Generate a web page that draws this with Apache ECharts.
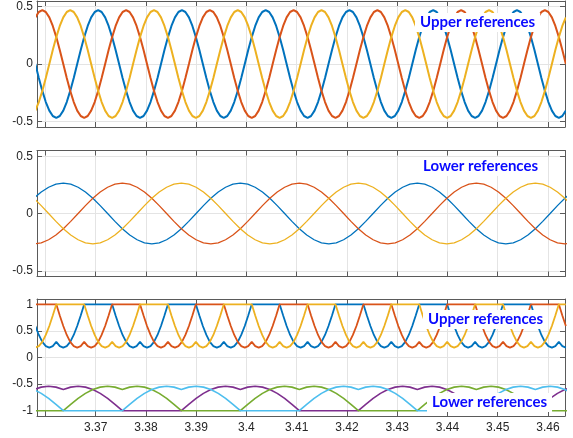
<!DOCTYPE html>
<html><head><meta charset="utf-8">
<script src="https://cdn.jsdelivr.net/npm/echarts@6/dist/echarts.min.js"></script>
<style>html,body{margin:0;padding:0;background:#fff}#c{width:573px;height:438px}</style>
</head><body><div id="c"></div>
<script>
// ---- time samples (s) for the 60 Hz signals (top panel and upper references) ----
const tFast = [
3.358,3.35869,3.35939,3.36008,3.36078,3.36147,3.36217,3.36286,3.36356,3.36425,3.36494,3.36564,3.36633,3.36703,3.36772,3.36842,3.36911,3.36981,3.3705,3.37119,3.37189,3.37258,3.37328,3.37397,
3.37467,3.37536,3.37606,3.37675,3.37744,3.37814,3.37883,3.37953,3.38022,3.38092,3.38161,3.38231,3.383,3.38369,3.38439,3.38508,3.38578,3.38647,3.38717,3.38786,3.38856,3.38925,3.38994,3.39064,
3.39133,3.39203,3.39272,3.39342,3.39411,3.39481,3.3955,3.39619,3.39689,3.39758,3.39828,3.39897,3.39967,3.40036,3.40106,3.40175,3.40244,3.40314,3.40383,3.40453,3.40522,3.40592,3.40661,3.40731,
3.408,3.40869,3.40939,3.41008,3.41078,3.41147,3.41217,3.41286,3.41356,3.41425,3.41494,3.41564,3.41633,3.41703,3.41772,3.41842,3.41911,3.41981,3.4205,3.42119,3.42189,3.42258,3.42328,3.42397,
3.42467,3.42536,3.42606,3.42675,3.42744,3.42814,3.42883,3.42953,3.43022,3.43092,3.43161,3.43231,3.433,3.43369,3.43439,3.43508,3.43578,3.43647,3.43717,3.43786,3.43856,3.43925,3.43994,3.44064,
3.44133,3.44203,3.44272,3.44342,3.44411,3.44481,3.4455,3.44619,3.44689,3.44758,3.44828,3.44897,3.44967,3.45036,3.45106,3.45175,3.45244,3.45314,3.45383,3.45453,3.45522,3.45592,3.45661,3.45731,
3.458,3.45869,3.45939,3.46008,3.46078,3.46147,3.46217,3.46286,3.46356];

// ---- top panel: upper references (sinusoids) ----
const topBlue = [
0,-0.122,-0.235,-0.332,-0.407,-0.454,-0.47,-0.454,-0.407,-0.332,-0.235,-0.122,0,0.122,0.235,0.332,0.407,0.454,0.47,0.454,0.407,0.332,0.235,0.122,
0,-0.122,-0.235,-0.332,-0.407,-0.454,-0.47,-0.454,-0.407,-0.332,-0.235,-0.122,0,0.122,0.235,0.332,0.407,0.454,0.47,0.454,0.407,0.332,0.235,0.122,
0,-0.122,-0.235,-0.332,-0.407,-0.454,-0.47,-0.454,-0.407,-0.332,-0.235,-0.122,0,0.122,0.235,0.332,0.407,0.454,0.47,0.454,0.407,0.332,0.235,0.122,
0,-0.122,-0.235,-0.332,-0.407,-0.454,-0.47,-0.454,-0.407,-0.332,-0.235,-0.122,0,0.122,0.235,0.332,0.407,0.454,0.47,0.454,0.407,0.332,0.235,0.122,
0,-0.122,-0.235,-0.332,-0.407,-0.454,-0.47,-0.454,-0.407,-0.332,-0.235,-0.122,0,0.122,0.235,0.332,0.407,0.454,0.47,0.454,0.407,0.332,0.235,0.122,
0,-0.122,-0.235,-0.332,-0.407,-0.454,-0.47,-0.454,-0.407,-0.332,-0.235,-0.122,0,0.122,0.235,0.332,0.407,0.454,0.47,0.454,0.407,0.332,0.235,0.122,
0,-0.122,-0.235,-0.332,-0.407,-0.454,-0.47,-0.454,-0.407];
const topOrange = [
0.407,0.454,0.47,0.454,0.407,0.332,0.235,0.122,0,-0.122,-0.235,-0.332,-0.407,-0.454,-0.47,-0.454,-0.407,-0.332,-0.235,-0.122,0,0.122,0.235,0.332,
0.407,0.454,0.47,0.454,0.407,0.332,0.235,0.122,0,-0.122,-0.235,-0.332,-0.407,-0.454,-0.47,-0.454,-0.407,-0.332,-0.235,-0.122,0,0.122,0.235,0.332,
0.407,0.454,0.47,0.454,0.407,0.332,0.235,0.122,0,-0.122,-0.235,-0.332,-0.407,-0.454,-0.47,-0.454,-0.407,-0.332,-0.235,-0.122,0,0.122,0.235,0.332,
0.407,0.454,0.47,0.454,0.407,0.332,0.235,0.122,0,-0.122,-0.235,-0.332,-0.407,-0.454,-0.47,-0.454,-0.407,-0.332,-0.235,-0.122,0,0.122,0.235,0.332,
0.407,0.454,0.47,0.454,0.407,0.332,0.235,0.122,0,-0.122,-0.235,-0.332,-0.407,-0.454,-0.47,-0.454,-0.407,-0.332,-0.235,-0.122,0,0.122,0.235,0.332,
0.407,0.454,0.47,0.454,0.407,0.332,0.235,0.122,0,-0.122,-0.235,-0.332,-0.407,-0.454,-0.47,-0.454,-0.407,-0.332,-0.235,-0.122,0,0.122,0.235,0.332,
0.407,0.454,0.47,0.454,0.407,0.332,0.235,0.122,0];
const topYellow = [
-0.407,-0.332,-0.235,-0.122,0,0.122,0.235,0.332,0.407,0.454,0.47,0.454,0.407,0.332,0.235,0.122,0,-0.122,-0.235,-0.332,-0.407,-0.454,-0.47,-0.454,
-0.407,-0.332,-0.235,-0.122,0,0.122,0.235,0.332,0.407,0.454,0.47,0.454,0.407,0.332,0.235,0.122,0,-0.122,-0.235,-0.332,-0.407,-0.454,-0.47,-0.454,
-0.407,-0.332,-0.235,-0.122,0,0.122,0.235,0.332,0.407,0.454,0.47,0.454,0.407,0.332,0.235,0.122,0,-0.122,-0.235,-0.332,-0.407,-0.454,-0.47,-0.454,
-0.407,-0.332,-0.235,-0.122,0,0.122,0.235,0.332,0.407,0.454,0.47,0.454,0.407,0.332,0.235,0.122,0,-0.122,-0.235,-0.332,-0.407,-0.454,-0.47,-0.454,
-0.407,-0.332,-0.235,-0.122,0,0.122,0.235,0.332,0.407,0.454,0.47,0.454,0.407,0.332,0.235,0.122,0,-0.122,-0.235,-0.332,-0.407,-0.454,-0.47,-0.454,
-0.407,-0.332,-0.235,-0.122,0,0.122,0.235,0.332,0.407,0.454,0.47,0.454,0.407,0.332,0.235,0.122,0,-0.122,-0.235,-0.332,-0.407,-0.454,-0.47,-0.454,
-0.407,-0.332,-0.235,-0.122,0,0.122,0.235,0.332,0.407];

// ---- bottom panel: upper references (clamped at 1) ----
const upBlue = [
0.593,0.424,0.295,0.214,0.186,0.214,0.295,0.214,0.186,0.214,0.295,0.424,0.593,0.789,1,1,1,1,1,1,1,1,1,0.789,
0.593,0.424,0.295,0.214,0.186,0.214,0.295,0.214,0.186,0.214,0.295,0.424,0.593,0.789,1,1,1,1,1,1,1,1,1,0.789,
0.593,0.424,0.295,0.214,0.186,0.214,0.295,0.214,0.186,0.214,0.295,0.424,0.593,0.789,1,1,1,1,1,1,1,1,1,0.789,
0.593,0.424,0.295,0.214,0.186,0.214,0.295,0.214,0.186,0.214,0.295,0.424,0.593,0.789,1,1,1,1,1,1,1,1,1,0.789,
0.593,0.424,0.295,0.214,0.186,0.214,0.295,0.214,0.186,0.214,0.295,0.424,0.593,0.789,1,1,1,1,1,1,1,1,1,0.789,
0.593,0.424,0.295,0.214,0.186,0.214,0.295,0.214,0.186,0.214,0.295,0.424,0.593,0.789,1,1,1,1,1,1,1,1,1,0.789,
0.593,0.424,0.295,0.214,0.186,0.214,0.295,0.214,0.186];
const upOrange = [
1,1,1,1,1,1,1,0.789,0.593,0.424,0.295,0.214,0.186,0.214,0.295,0.214,0.186,0.214,0.295,0.424,0.593,0.789,1,1,
1,1,1,1,1,1,1,0.789,0.593,0.424,0.295,0.214,0.186,0.214,0.295,0.214,0.186,0.214,0.295,0.424,0.593,0.789,1,1,
1,1,1,1,1,1,1,0.789,0.593,0.424,0.295,0.214,0.186,0.214,0.295,0.214,0.186,0.214,0.295,0.424,0.593,0.789,1,1,
1,1,1,1,1,1,1,0.789,0.593,0.424,0.295,0.214,0.186,0.214,0.295,0.214,0.186,0.214,0.295,0.424,0.593,0.789,1,1,
1,1,1,1,1,1,1,0.789,0.593,0.424,0.295,0.214,0.186,0.214,0.295,0.214,0.186,0.214,0.295,0.424,0.593,0.789,1,1,
1,1,1,1,1,1,1,0.789,0.593,0.424,0.295,0.214,0.186,0.214,0.295,0.214,0.186,0.214,0.295,0.424,0.593,0.789,1,1,
1,1,1,1,1,1,1,0.789,0.593];
const upYellow = [
0.186,0.214,0.295,0.424,0.593,0.789,1,1,1,1,1,1,1,1,1,0.789,0.593,0.424,0.295,0.214,0.186,0.214,0.295,0.214,
0.186,0.214,0.295,0.424,0.593,0.789,1,1,1,1,1,1,1,1,1,0.789,0.593,0.424,0.295,0.214,0.186,0.214,0.295,0.214,
0.186,0.214,0.295,0.424,0.593,0.789,1,1,1,1,1,1,1,1,1,0.789,0.593,0.424,0.295,0.214,0.186,0.214,0.295,0.214,
0.186,0.214,0.295,0.424,0.593,0.789,1,1,1,1,1,1,1,1,1,0.789,0.593,0.424,0.295,0.214,0.186,0.214,0.295,0.214,
0.186,0.214,0.295,0.424,0.593,0.789,1,1,1,1,1,1,1,1,1,0.789,0.593,0.424,0.295,0.214,0.186,0.214,0.295,0.214,
0.186,0.214,0.295,0.424,0.593,0.789,1,1,1,1,1,1,1,1,1,0.789,0.593,0.424,0.295,0.214,0.186,0.214,0.295,0.214,
0.186,0.214,0.295,0.424,0.593,0.789,1,1,1];

// ---- time samples (s) for the slower signals (middle panel and lower references) ----
const tSlow = [
3.3577,3.35917,3.36064,3.3621,3.36357,3.36504,3.36651,3.36797,3.36944,3.37091,3.37238,3.37384,3.37531,3.37678,3.37825,3.37971,3.38118,3.38265,3.38412,3.38558,3.38705,3.38852,3.38999,3.39145,
3.39292,3.39439,3.39585,3.39732,3.39879,3.40026,3.40173,3.40319,3.40466,3.40613,3.4076,3.40906,3.41053,3.412,3.41347,3.41493,3.4164,3.41787,3.41934,3.4208,3.42227,3.42374,3.42521,3.42667,
3.42814,3.42961,3.43108,3.43254,3.43401,3.43548,3.43695,3.43841,3.43988,3.44135,3.44282,3.44428,3.44575,3.44722,3.44869,3.45015,3.45162,3.45309,3.45456,3.45602,3.45749,3.45896,3.46043,3.46189,
3.46336,3.46483];

// ---- middle panel: lower references (sinusoids) ----
const midBlue = [
0.133,0.187,0.229,0.256,0.265,0.256,0.229,0.187,0.133,0.069,0,-0.069,-0.133,-0.187,-0.229,-0.256,-0.265,-0.256,-0.229,-0.187,-0.133,-0.069,0,0.069,
0.133,0.187,0.229,0.256,0.265,0.256,0.229,0.187,0.133,0.069,0,-0.069,-0.133,-0.187,-0.229,-0.256,-0.265,-0.256,-0.229,-0.187,-0.133,-0.069,0,0.069,
0.133,0.187,0.229,0.256,0.265,0.256,0.229,0.187,0.133,0.069,0,-0.069,-0.133,-0.187,-0.229,-0.256,-0.265,-0.256,-0.229,-0.187,-0.133,-0.069,0,0.069,
0.133,0.187];
const midOrange = [
-0.265,-0.256,-0.229,-0.187,-0.133,-0.069,0,0.069,0.133,0.187,0.229,0.256,0.265,0.256,0.229,0.187,0.133,0.069,0,-0.069,-0.133,-0.187,-0.229,-0.256,
-0.265,-0.256,-0.229,-0.187,-0.133,-0.069,0,0.069,0.133,0.187,0.229,0.256,0.265,0.256,0.229,0.187,0.133,0.069,0,-0.069,-0.133,-0.187,-0.229,-0.256,
-0.265,-0.256,-0.229,-0.187,-0.133,-0.069,0,0.069,0.133,0.187,0.229,0.256,0.265,0.256,0.229,0.187,0.133,0.069,0,-0.069,-0.133,-0.187,-0.229,-0.256,
-0.265,-0.256];
const midYellow = [
0.133,0.069,0,-0.069,-0.133,-0.187,-0.229,-0.256,-0.265,-0.256,-0.229,-0.187,-0.133,-0.069,0,0.069,0.133,0.187,0.229,0.256,0.265,0.256,0.229,0.187,
0.133,0.069,0,-0.069,-0.133,-0.187,-0.229,-0.256,-0.265,-0.256,-0.229,-0.187,-0.133,-0.069,0,0.069,0.133,0.187,0.229,0.256,0.265,0.256,0.229,0.187,
0.133,0.069,0,-0.069,-0.133,-0.187,-0.229,-0.256,-0.265,-0.256,-0.229,-0.187,-0.133,-0.069,0,0.069,0.133,0.187,0.229,0.256,0.265,0.256,0.229,0.187,
0.133,0.069];

// ---- bottom panel: lower references (clamped at -1) ----
const lowPurple = [
-0.603,-0.557,-0.541,-0.557,-0.603,-0.557,-0.541,-0.557,-0.603,-0.675,-0.77,-0.881,-1,-1,-1,-1,-1,-1,-1,-1,-1,-0.881,-0.77,-0.675,
-0.603,-0.557,-0.541,-0.557,-0.603,-0.557,-0.541,-0.557,-0.603,-0.675,-0.77,-0.881,-1,-1,-1,-1,-1,-1,-1,-1,-1,-0.881,-0.77,-0.675,
-0.603,-0.557,-0.541,-0.557,-0.603,-0.557,-0.541,-0.557,-0.603,-0.675,-0.77,-0.881,-1,-1,-1,-1,-1,-1,-1,-1,-1,-0.881,-0.77,-0.675,
-0.603,-0.557];
const lowGreen = [
-1,-1,-1,-1,-1,-0.881,-0.77,-0.675,-0.603,-0.557,-0.541,-0.557,-0.603,-0.557,-0.541,-0.557,-0.603,-0.675,-0.77,-0.881,-1,-1,-1,-1,
-1,-1,-1,-1,-1,-0.881,-0.77,-0.675,-0.603,-0.557,-0.541,-0.557,-0.603,-0.557,-0.541,-0.557,-0.603,-0.675,-0.77,-0.881,-1,-1,-1,-1,
-1,-1,-1,-1,-1,-0.881,-0.77,-0.675,-0.603,-0.557,-0.541,-0.557,-0.603,-0.557,-0.541,-0.557,-0.603,-0.675,-0.77,-0.881,-1,-1,-1,-1,
-1,-1];
const lowCyan = [
-0.603,-0.675,-0.77,-0.881,-1,-1,-1,-1,-1,-1,-1,-1,-1,-0.881,-0.77,-0.675,-0.603,-0.557,-0.541,-0.557,-0.603,-0.557,-0.541,-0.557,
-0.603,-0.675,-0.77,-0.881,-1,-1,-1,-1,-1,-1,-1,-1,-1,-0.881,-0.77,-0.675,-0.603,-0.557,-0.541,-0.557,-0.603,-0.557,-0.541,-0.557,
-0.603,-0.675,-0.77,-0.881,-1,-1,-1,-1,-1,-1,-1,-1,-1,-0.881,-0.77,-0.675,-0.603,-0.557,-0.541,-0.557,-0.603,-0.557,-0.541,-0.557,
-0.603,-0.675];

// ---- axis ticks ----
const xTicks = [3.36,3.37,3.38,3.39,3.4,3.41,3.42,3.43,3.44,3.45,3.46];
const xTickLabels = [3.37,3.38,3.39,3.4,3.41,3.42,3.43,3.44,3.45,3.46];
const yTicksHalf = [-0.5,0,0.5];
const yTicksUnit = [-1,-0.5,0,0.5,1];
const xRange = [3.35833, 3.46339];

const C = {blue:'#0072BD',orange:'#D95319',yellow:'#EDB120',purple:'#7E2F8E',green:'#77AC30',cyan:'#4DBEEE'};
const axisCol = '#5a5a5a', gridCol = '#e4e4e4', txtCol = '#262626';
const FONT = "'Liberation Sans', Arial, Helvetica, sans-serif";

const grids = [
  {left:37, right:8, top:1, height:126},
  {left:37, right:8, top:150.5, height:126},
  {left:37, right:8, top:299, height:117}
];
const yRanges = [[-0.55,0.55],[-0.55,0.55],[-1.1,1.1]];
const yTicks = [yTicksHalf, yTicksHalf, yTicksUnit];

const xAxis = [], yAxis = [];
grids.forEach((g, gi) => {
  const isLast = gi === 2;
  xAxis.push({
    type:'value', gridIndex:gi, position:'bottom', min:xRange[0], max:xRange[1],
    axisLine:{show:true, onZero:false, lineStyle:{color:axisCol, width:1}},
    axisTick:{show:true, inside:true, length:5, customValues:xTicks, lineStyle:{color:axisCol}},
    splitLine:{show:true, lineStyle:{color:gridCol, width:1}},
    axisLabel:{show:isLast, customValues:xTickLabels, color:txtCol, fontSize:12, fontFamily:FONT, margin:6,
      formatter: v => String(Math.round(v*100)/100)}
  });
  xAxis.push({
    type:'value', gridIndex:gi, position:'top', min:xRange[0], max:xRange[1],
    axisLine:{show:true, onZero:false, lineStyle:{color:axisCol, width:1}},
    axisTick:{show:true, inside:true, length:5, customValues:xTicks, lineStyle:{color:axisCol}},
    splitLine:{show:false}, axisLabel:{show:false}
  });
  yAxis.push({
    type:'value', gridIndex:gi, position:'left', min:yRanges[gi][0], max:yRanges[gi][1],
    axisLine:{show:true, onZero:false, lineStyle:{color:axisCol, width:1}},
    axisTick:{show:true, inside:true, length:5, customValues:yTicks[gi], lineStyle:{color:axisCol}},
    splitLine:{show:true, lineStyle:{color:gridCol, width:1}},
    axisLabel:{show:true, customValues:yTicks[gi], color:txtCol, fontSize:12, fontFamily:FONT, margin:4}
  });
  yAxis.push({
    type:'value', gridIndex:gi, position:'right', min:yRanges[gi][0], max:yRanges[gi][1],
    axisLine:{show:true, onZero:false, lineStyle:{color:axisCol, width:1}},
    axisTick:{show:true, inside:true, length:5, customValues:yTicks[gi], lineStyle:{color:axisCol}},
    splitLine:{show:false}, axisLabel:{show:false}
  });
});

function mk(t, v, color, axis, width) {
  return {type:'line', xAxisIndex:axis*2, yAxisIndex:axis*2, showSymbol:false, symbol:'none',
    clip:true, silent:true, lineStyle:{color:color, width:width}, itemStyle:{color:color},
    data:t.map((x,i)=>[x, v[i]])};
}

const series = [
  mk(tFast, topBlue, C.blue, 0, 2),
  mk(tFast, topOrange, C.orange, 0, 2),
  mk(tFast, topYellow, C.yellow, 0, 2),
  mk(tSlow, midBlue, C.blue, 1, 1.3),
  mk(tSlow, midOrange, C.orange, 1, 1.3),
  mk(tSlow, midYellow, C.yellow, 1, 1.3),
  mk(tFast, upBlue, C.blue, 2, 1.8),
  mk(tFast, upOrange, C.orange, 2, 1.8),
  mk(tFast, upYellow, C.yellow, 2, 1.8),
  mk(tSlow, lowPurple, C.purple, 2, 1.6),
  mk(tSlow, lowGreen, C.green, 2, 1.6),
  mk(tSlow, lowCyan, C.cyan, 2, 1.6)
];

function label(text, left, top) {
  return {type:'text', left:left, top:top, z:100,
    style:{text:text, fill:'#0a0aff', font:"bold 15px Lato, 'Open Sans', sans-serif",
      backgroundColor:'#ffffff', padding:[2,5,2,5]}};
}

const chart = echarts.init(document.getElementById('c'), null, {renderer:'canvas'});
chart.setOption({
  animation:false,
  backgroundColor:'#ffffff',
  grid:grids,
  xAxis:xAxis,
  yAxis:yAxis,
  series:series,
  graphic:[
    label('Upper references', 415, 13),
    label('Lower references', 418, 157),
    label('Upper references', 423, 310),
    label('Lower references', 427, 393)
  ]
});
</script>
</body></html>
